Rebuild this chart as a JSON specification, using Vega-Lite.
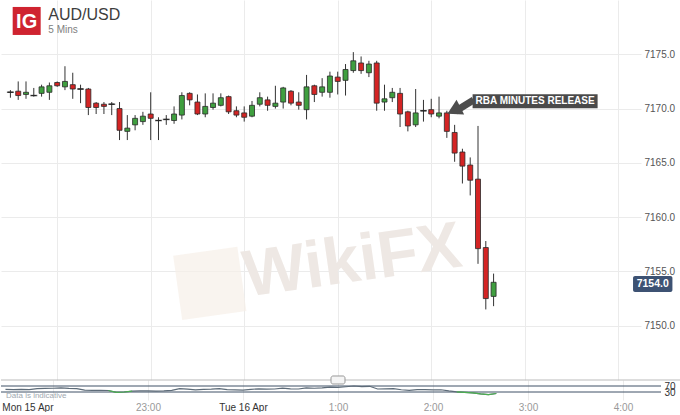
{
  "$schema": "https://vega.github.io/schema/vega-lite/v6.json",
  "padding": 0,
  "spacing": 0,
  "bounds": "flush",
  "background": "white",
  "config": {"font": "Liberation Sans", "view": {"stroke": null}},
  "datasets": {
    "candles": [
      {"t":"2018-04-15T21:30:00Z","o":7171.5,"h":7171.7,"l":7171.0,"c":7171.5,"rsi":48},
      {"t":"2018-04-15T21:35:00Z","o":7171.6,"h":7172.5,"l":7170.8,"c":7171.2,"rsi":46},
      {"t":"2018-04-15T21:40:00Z","o":7171.3,"h":7172.5,"l":7170.9,"c":7171.5,"rsi":47},
      {"t":"2018-04-15T21:45:00Z","o":7171.2,"h":7171.9,"l":7171.1,"c":7171.2,"rsi":46},
      {"t":"2018-04-15T21:50:00Z","o":7171.4,"h":7172.2,"l":7171.1,"c":7172.0,"rsi":52},
      {"t":"2018-04-15T21:55:00Z","o":7171.5,"h":7172.4,"l":7170.8,"c":7172.1,"rsi":54},
      {"t":"2018-04-15T22:00:00Z","o":7172.4,"h":7172.5,"l":7172.0,"c":7172.1,"rsi":55},
      {"t":"2018-04-15T22:05:00Z","o":7172.0,"h":7173.9,"l":7171.7,"c":7172.5,"rsi":58},
      {"t":"2018-04-15T22:10:00Z","o":7172.2,"h":7173.3,"l":7170.9,"c":7171.8,"rsi":54},
      {"t":"2018-04-15T22:15:00Z","o":7171.8,"h":7172.2,"l":7170.5,"c":7171.8,"rsi":53},
      {"t":"2018-04-15T22:20:00Z","o":7171.8,"h":7171.9,"l":7169.4,"c":7170.1,"rsi":42},
      {"t":"2018-04-15T22:25:00Z","o":7170.5,"h":7170.6,"l":7169.5,"c":7170.1,"rsi":41},
      {"t":"2018-04-15T22:30:00Z","o":7170.4,"h":7170.6,"l":7169.5,"c":7170.2,"rsi":41},
      {"t":"2018-04-15T22:35:00Z","o":7170.4,"h":7170.6,"l":7169.4,"c":7170.4,"rsi":40},
      {"t":"2018-04-15T22:40:00Z","o":7170.0,"h":7170.6,"l":7167.1,"c":7168.0,"rsi":28},
      {"t":"2018-04-15T22:45:00Z","o":7167.9,"h":7169.4,"l":7167.1,"c":7168.2,"rsi":30},
      {"t":"2018-04-15T22:50:00Z","o":7168.5,"h":7169.4,"l":7168.0,"c":7169.1,"rsi":36},
      {"t":"2018-04-15T22:55:00Z","o":7168.8,"h":7169.7,"l":7168.5,"c":7169.3,"rsi":38},
      {"t":"2018-04-15T23:00:00Z","o":7169.5,"h":7171.5,"l":7167.1,"c":7169.1,"rsi":37},
      {"t":"2018-04-15T23:05:00Z","o":7168.9,"h":7169.2,"l":7167.1,"c":7168.9,"rsi":36},
      {"t":"2018-04-15T23:10:00Z","o":7169.0,"h":7169.4,"l":7168.5,"c":7169.0,"rsi":37},
      {"t":"2018-04-15T23:15:00Z","o":7168.9,"h":7170.2,"l":7168.6,"c":7169.5,"rsi":41},
      {"t":"2018-04-15T23:20:00Z","o":7169.4,"h":7171.5,"l":7169.0,"c":7171.2,"rsi":52},
      {"t":"2018-04-15T23:25:00Z","o":7171.4,"h":7171.5,"l":7170.3,"c":7170.8,"rsi":49},
      {"t":"2018-04-15T23:30:00Z","o":7170.6,"h":7171.3,"l":7169.4,"c":7169.5,"rsi":44},
      {"t":"2018-04-15T23:35:00Z","o":7169.5,"h":7171.4,"l":7169.2,"c":7170.2,"rsi":48},
      {"t":"2018-04-15T23:40:00Z","o":7170.1,"h":7171.4,"l":7169.9,"c":7170.5,"rsi":49},
      {"t":"2018-04-15T23:45:00Z","o":7170.3,"h":7171.4,"l":7170.2,"c":7171.0,"rsi":52},
      {"t":"2018-04-15T23:50:00Z","o":7171.1,"h":7171.2,"l":7169.5,"c":7169.7,"rsi":46},
      {"t":"2018-04-15T23:55:00Z","o":7169.8,"h":7170.2,"l":7169.2,"c":7169.4,"rsi":44},
      {"t":"2018-04-16T00:00:00Z","o":7169.6,"h":7170.2,"l":7168.8,"c":7169.2,"rsi":43},
      {"t":"2018-04-16T00:05:00Z","o":7169.3,"h":7170.7,"l":7169.2,"c":7170.3,"rsi":48},
      {"t":"2018-04-16T00:10:00Z","o":7170.4,"h":7171.5,"l":7170.2,"c":7171.0,"rsi":51},
      {"t":"2018-04-16T00:15:00Z","o":7170.8,"h":7171.1,"l":7169.8,"c":7170.3,"rsi":49},
      {"t":"2018-04-16T00:20:00Z","o":7170.2,"h":7172.1,"l":7170.0,"c":7170.5,"rsi":50},
      {"t":"2018-04-16T00:25:00Z","o":7170.6,"h":7172.0,"l":7170.0,"c":7171.9,"rsi":56},
      {"t":"2018-04-16T00:30:00Z","o":7171.6,"h":7171.7,"l":7170.3,"c":7170.5,"rsi":51},
      {"t":"2018-04-16T00:35:00Z","o":7170.6,"h":7171.5,"l":7169.9,"c":7170.3,"rsi":50},
      {"t":"2018-04-16T00:40:00Z","o":7169.9,"h":7173.1,"l":7169.0,"c":7172.0,"rsi":58},
      {"t":"2018-04-16T00:45:00Z","o":7172.1,"h":7172.2,"l":7170.6,"c":7171.3,"rsi":55},
      {"t":"2018-04-16T00:50:00Z","o":7171.5,"h":7172.8,"l":7171.1,"c":7172.0,"rsi":57},
      {"t":"2018-04-16T00:55:00Z","o":7171.5,"h":7173.4,"l":7171.0,"c":7173.0,"rsi":62},
      {"t":"2018-04-16T01:00:00Z","o":7172.9,"h":7173.4,"l":7171.3,"c":7172.5,"rsi":60},
      {"t":"2018-04-16T01:05:00Z","o":7172.6,"h":7174.1,"l":7171.2,"c":7173.6,"rsi":65},
      {"t":"2018-04-16T01:10:00Z","o":7173.5,"h":7175.2,"l":7173.3,"c":7174.4,"rsi":70},
      {"t":"2018-04-16T01:15:00Z","o":7174.2,"h":7174.8,"l":7173.2,"c":7173.5,"rsi":66},
      {"t":"2018-04-16T01:20:00Z","o":7173.3,"h":7174.4,"l":7172.9,"c":7174.1,"rsi":68},
      {"t":"2018-04-16T01:25:00Z","o":7174.2,"h":7174.4,"l":7169.8,"c":7170.5,"rsi":50},
      {"t":"2018-04-16T01:30:00Z","o":7170.6,"h":7172.2,"l":7169.8,"c":7170.9,"rsi":51},
      {"t":"2018-04-16T01:35:00Z","o":7171.0,"h":7171.9,"l":7170.6,"c":7171.5,"rsi":53},
      {"t":"2018-04-16T01:40:00Z","o":7171.4,"h":7171.9,"l":7168.3,"c":7169.5,"rsi":45},
      {"t":"2018-04-16T01:45:00Z","o":7169.7,"h":7169.8,"l":7167.9,"c":7168.4,"rsi":41},
      {"t":"2018-04-16T01:50:00Z","o":7168.5,"h":7171.8,"l":7168.3,"c":7169.6,"rsi":46},
      {"t":"2018-04-16T01:55:00Z","o":7169.8,"h":7170.8,"l":7168.8,"c":7169.8,"rsi":46},
      {"t":"2018-04-16T02:00:00Z","o":7169.9,"h":7170.9,"l":7169.2,"c":7169.5,"rsi":44},
      {"t":"2018-04-16T02:05:00Z","o":7169.3,"h":7171.1,"l":7169.1,"c":7169.6,"rsi":45},
      {"t":"2018-04-16T02:10:00Z","o":7169.6,"h":7169.8,"l":7167.3,"c":7167.9,"rsi":37},
      {"t":"2018-04-16T02:15:00Z","o":7167.8,"h":7168.5,"l":7165.1,"c":7165.9,"rsi":31},
      {"t":"2018-04-16T02:20:00Z","o":7166.0,"h":7166.3,"l":7163.1,"c":7164.7,"rsi":27},
      {"t":"2018-04-16T02:25:00Z","o":7164.8,"h":7165.5,"l":7162.0,"c":7163.4,"rsi":24},
      {"t":"2018-04-16T02:30:00Z","o":7163.5,"h":7168.4,"l":7155.7,"c":7157.1,"rsi":17},
      {"t":"2018-04-16T02:35:00Z","o":7157.2,"h":7157.8,"l":7151.5,"c":7152.5,"rsi":13},
      {"t":"2018-04-16T02:40:00Z","o":7152.7,"h":7154.8,"l":7151.8,"c":7154.0,"rsi":20}
    ]
  },
  "vconcat": [
    {
      "width": 640,
      "height": 380,
      "layer": [
        {
          "data": {"values": [{"mark": "logo"}]},
          "mark": {"type": "point", "shape": "square", "filled": true, "size": 4200, "color": "#f7f0e8", "angle": -8},
          "encoding": {
            "x": {"datum": {"year":2018,"month":4,"date":15,"hours":23,"minutes":37,"seconds":54,"utc":true}, "type": "temporal"},
            "y": {"datum": 7153.9, "type": "quantitative"}
          }
        },
        {
          "data": {"values": [{"label": "WikiFX"}]},
          "mark": {"type": "text", "fontSize": 66, "fontWeight": "bold", "color": "#eee8e4", "angle": -8, "align": "center", "baseline": "middle"},
          "encoding": {
            "x": {"datum": {"year":2018,"month":4,"date":16,"hours":1,"minutes":9,"seconds":28,"utc":true}, "type": "temporal"},
            "y": {"datum": 7155.9, "type": "quantitative"},
            "text": {"field": "label"}
          }
        },
        {
          "data": {"name": "candles"},
          "mark": {"type": "rule", "color": "#333333", "strokeWidth": 1},
          "encoding": {
            "x": {
              "field": "t", "type": "temporal",
              "scale": {"type": "utc", "nice": false, "domain": [
                {"year":2018,"month":4,"date":15,"hours":21,"minutes":27,"seconds":10,"utc":true},
                {"year":2018,"month":4,"date":16,"hours":4,"minutes":11,"seconds":22,"utc":true}
              ]},
              "axis": {
                "title": null, "labels": false, "ticks": false, "domain": false,
                "grid": true, "gridColor": "#ebebeb",
                "values": [
                  {"year":2018,"month":4,"date":15,"hours":22,"utc":true},
                  {"year":2018,"month":4,"date":15,"hours":23,"utc":true},
                  {"year":2018,"month":4,"date":16,"hours":0,"utc":true},
                  {"year":2018,"month":4,"date":16,"hours":1,"utc":true},
                  {"year":2018,"month":4,"date":16,"hours":2,"utc":true},
                  {"year":2018,"month":4,"date":16,"hours":3,"utc":true},
                  {"year":2018,"month":4,"date":16,"hours":4,"utc":true}
                ]
              }
            },
            "y": {
              "field": "l", "type": "quantitative",
              "scale": {"domain": [7145, 7180], "nice": false, "zero": false},
              "axis": {
                "orient": "right", "title": null, "values": [7150, 7155, 7160, 7165, 7170, 7175],
                "format": ".1f", "grid": true, "gridColor": "#ebebeb", "domain": false, "ticks": false,
                "labelPadding": 3, "labelFontSize": 10, "labelColor": "#555555"
              }
            },
            "y2": {"field": "h"}
          }
        },
        {
          "data": {"name": "candles"},
          "mark": {"type": "bar", "width": 5, "stroke": "#2a2a2a", "strokeWidth": 0.8},
          "encoding": {
            "x": {"field": "t", "type": "temporal"},
            "y": {"field": "o", "type": "quantitative"},
            "y2": {"field": "c"},
            "fill": {
              "condition": [
                {"test": "datum.c > datum.o", "value": "#3f9f3f"},
                {"test": "datum.c < datum.o", "value": "#d42424"}
              ],
              "value": "#222222"
            }
          }
        },
        {
          "data": {"name": "candles"},
          "transform": [{"filter": "datum.o == datum.c"}],
          "mark": {"type": "tick", "orient": "horizontal", "size": 7, "thickness": 1.5, "color": "#222222"},
          "encoding": {
            "x": {"field": "t", "type": "temporal"},
            "y": {"field": "o", "type": "quantitative"}
          }
        },
        {
          "data": {"values": [{"label": "RBA MINUTES RELEASE"}]},
          "mark": {"type": "rect", "color": "#4a4a4a"},
          "encoding": {
            "x": {"datum": {"year":2018,"month":4,"date":16,"hours":2,"minutes":26,"seconds":32,"utc":true}, "type": "temporal"},
            "x2": {"datum": {"year":2018,"month":4,"date":16,"hours":3,"minutes":46,"seconds":44,"utc":true}},
            "y": {"datum": 7171.32, "type": "quantitative"},
            "y2": {"datum": 7170.03}
          }
        },
        {
          "data": {"values": [{"label": "RBA MINUTES RELEASE"}]},
          "mark": {"type": "text", "color": "white", "fontSize": 10, "fontWeight": "bold", "align": "center", "baseline": "middle"},
          "encoding": {
            "x": {"datum": {"year":2018,"month":4,"date":16,"hours":3,"minutes":6,"seconds":38,"utc":true}, "type": "temporal"},
            "y": {"datum": 7170.67, "type": "quantitative"},
            "text": {"field": "label"}
          }
        },
        {
          "data": {"values": [{"label": "arrow"}]},
          "mark": {"type": "rule", "color": "#4d4d4d", "strokeWidth": 7},
          "encoding": {
            "x": {"datum": {"year":2018,"month":4,"date":16,"hours":2,"minutes":27,"seconds":9,"utc":true}, "type": "temporal"},
            "x2": {"datum": {"year":2018,"month":4,"date":16,"hours":2,"minutes":15,"seconds":30,"utc":true}},
            "y": {"datum": 7170.79, "type": "quantitative"},
            "y2": {"datum": 7169.75}
          }
        },
        {
          "data": {"values": [{"label": "arrowhead"}]},
          "mark": {"type": "point", "shape": "triangle-left", "filled": true, "size": 280, "color": "#4d4d4d", "angle": -27, "opacity": 1},
          "encoding": {
            "x": {"datum": {"year":2018,"month":4,"date":16,"hours":2,"minutes":14,"seconds":32,"utc":true}, "type": "temporal"},
            "y": {"datum": 7169.83, "type": "quantitative"}
          }
        },
        {
          "data": {"values": [{"label": "7154.0"}]},
          "mark": {"type": "rect", "color": "#3d5273", "cornerRadius": 2},
          "encoding": {
            "x": {"datum": {"year":2018,"month":4,"date":16,"hours":4,"minutes":9,"seconds":28,"utc":true}, "type": "temporal"},
            "x2": {"datum": {"year":2018,"month":4,"date":16,"hours":4,"minutes":34,"seconds":44,"utc":true}},
            "y": {"datum": 7154.58, "type": "quantitative"},
            "y2": {"datum": 7153.11}
          }
        },
        {
          "data": {"values": [{"label": "7154.0"}]},
          "mark": {"type": "text", "color": "white", "fontSize": 10.5, "fontWeight": "bold", "align": "center", "baseline": "middle"},
          "encoding": {
            "x": {"datum": {"year":2018,"month":4,"date":16,"hours":4,"minutes":22,"seconds":6,"utc":true}, "type": "temporal"},
            "y": {"datum": 7153.85, "type": "quantitative"},
            "text": {"field": "label"}
          }
        },
        {
          "data": {"values": [{"label": "IG"}]},
          "mark": {"type": "point", "shape": "square", "filled": true, "size": 784, "color": "#cf2330", "opacity": 1},
          "encoding": {
            "x": {"datum": {"year":2018,"month":4,"date":15,"hours":21,"minutes":40,"seconds":26,"utc":true}, "type": "temporal"},
            "y": {"datum": 7178.07, "type": "quantitative"}
          }
        },
        {
          "data": {"values": [{"label": "IG"}]},
          "mark": {"type": "text", "color": "white", "fontSize": 20, "fontWeight": "bold", "align": "center", "baseline": "middle", "dy": 1},
          "encoding": {
            "x": {"datum": {"year":2018,"month":4,"date":15,"hours":21,"minutes":40,"seconds":26,"utc":true}, "type": "temporal"},
            "y": {"datum": 7178.07, "type": "quantitative"},
            "text": {"field": "label"}
          }
        },
        {
          "data": {"values": [{"label": "AUD/USD"}]},
          "mark": {"type": "text", "color": "#3d3d3d", "fontSize": 16, "align": "left", "baseline": "middle"},
          "encoding": {
            "x": {"datum": {"year":2018,"month":4,"date":15,"hours":21,"minutes":54,"seconds":19,"utc":true}, "type": "temporal"},
            "y": {"datum": 7178.62, "type": "quantitative"},
            "text": {"field": "label"}
          }
        },
        {
          "data": {"values": [{"label": "5 Mins"}]},
          "mark": {"type": "text", "color": "#808080", "fontSize": 10, "align": "left", "baseline": "middle"},
          "encoding": {
            "x": {"datum": {"year":2018,"month":4,"date":15,"hours":21,"minutes":54,"seconds":19,"utc":true}, "type": "temporal"},
            "y": {"datum": 7177.24, "type": "quantitative"},
            "text": {"field": "label"}
          }
        }
      ]
    },
    {
      "width": 660,
      "height": 20,
      "layer": [
        {
          "data": {"values": [{"level": 70}, {"level": 30}]},
          "mark": {"type": "rule", "color": "#3f5066", "strokeWidth": 1},
          "encoding": {
            "y": {
              "field": "level", "type": "quantitative",
              "scale": {"domain": [-23.33, 110], "nice": false, "zero": false},
              "axis": {
                "orient": "right", "title": null, "values": [30, 70], "grid": false, "domain": false, "ticks": false,
                "labelPadding": 3, "labelFontSize": 10, "labelColor": "#333333", "labelOverlap": false
              }
            }
          }
        },
        {
          "data": {"values": [{"label": "separator"}]},
          "mark": {"type": "rule", "color": "#bbbbbb", "strokeWidth": 1},
          "encoding": {
            "x": {"datum": {"year":2018,"month":4,"date":15,"hours":21,"minutes":27,"seconds":10,"utc":true}, "type": "temporal"},
            "x2": {"datum": {"year":2018,"month":4,"date":16,"hours":4,"minutes":36,"seconds":38,"utc":true}},
            "y": {"datum": 110, "type": "quantitative"}
          }
        },
        {
          "data": {"name": "candles"},
          "mark": {"type": "line", "color": "#5d6b78", "strokeWidth": 1.2},
          "encoding": {
            "x": {
              "field": "t", "type": "temporal",
              "scale": {"type": "utc", "nice": false, "domain": [
                {"year":2018,"month":4,"date":15,"hours":21,"minutes":27,"seconds":10,"utc":true},
                {"year":2018,"month":4,"date":16,"hours":4,"minutes":24,"seconds":0,"utc":true}
              ]},
              "axis": {
                "title": null, "ticks": false, "domain": false, "grid": true, "gridColor": "#ebebeb",
                "labelPadding": 2, "labelFontSize": 10,
                "values": [
                  {"year":2018,"month":4,"date":15,"hours":22,"utc":true},
                  {"year":2018,"month":4,"date":15,"hours":23,"utc":true},
                  {"year":2018,"month":4,"date":16,"hours":0,"utc":true},
                  {"year":2018,"month":4,"date":16,"hours":1,"utc":true},
                  {"year":2018,"month":4,"date":16,"hours":2,"utc":true},
                  {"year":2018,"month":4,"date":16,"hours":3,"utc":true},
                  {"year":2018,"month":4,"date":16,"hours":4,"utc":true}
                ],
                "labelExpr": "utchours(datum.value) == 22 ? 'Mon 15 Apr' : utchours(datum.value) == 0 ? 'Tue 16 Apr' : utchours(datum.value) + ':00'",
                "labelColor": {"condition": {"test": "utchours(datum.value) == 22 || utchours(datum.value) == 0", "value": "#333333"}, "value": "#999999"},
                "labelAlign": {"condition": {"test": "utchours(datum.value) == 22", "value": "right"}, "value": "center"}
              }
            },
            "y": {"field": "rsi", "type": "quantitative"}
          }
        },
        {
          "data": {"name": "candles"},
          "transform": [{"filter": {"field": "t", "range": [
            {"year":2018,"month":4,"date":15,"hours":22,"minutes":35,"utc":true},
            {"year":2018,"month":4,"date":15,"hours":22,"minutes":50,"utc":true}
          ]}}],
          "mark": {"type": "line", "color": "#4caf50", "strokeWidth": 1.2},
          "encoding": {
            "x": {"field": "t", "type": "temporal"},
            "y": {"field": "rsi", "type": "quantitative"}
          }
        },
        {
          "data": {"name": "candles"},
          "transform": [{"filter": {"field": "t", "range": [
            {"year":2018,"month":4,"date":16,"hours":2,"minutes":15,"utc":true},
            {"year":2018,"month":4,"date":16,"hours":2,"minutes":40,"utc":true}
          ]}}],
          "mark": {"type": "line", "color": "#4caf50", "strokeWidth": 1.2},
          "encoding": {
            "x": {"field": "t", "type": "temporal"},
            "y": {"field": "rsi", "type": "quantitative"}
          }
        },
        {
          "data": {"values": [{"label": "Data is indicative"}]},
          "mark": {"type": "text", "color": "#a0a8b0", "fontSize": 8, "align": "left", "baseline": "middle"},
          "encoding": {
            "x": {"datum": {"year":2018,"month":4,"date":15,"hours":21,"minutes":30,"seconds":20,"utc":true}, "type": "temporal"},
            "y": {"datum": 3.3, "type": "quantitative"},
            "text": {"field": "label"}
          }
        },
        {
          "data": {"values": [{"label": "handle"}]},
          "mark": {"type": "rect", "fill": "#f5f5f5", "stroke": "#999999", "strokeWidth": 1, "cornerRadius": 2},
          "encoding": {
            "x": {"datum": {"year":2018,"month":4,"date":16,"hours":0,"minutes":55,"seconds":35,"utc":true}, "type": "temporal"},
            "x2": {"datum": {"year":2018,"month":4,"date":16,"hours":1,"minutes":4,"seconds":25,"utc":true}},
            "y": {"datum": 136.7, "type": "quantitative"},
            "y2": {"datum": 83.3}
          }
        }
      ]
    }
  ]
}
